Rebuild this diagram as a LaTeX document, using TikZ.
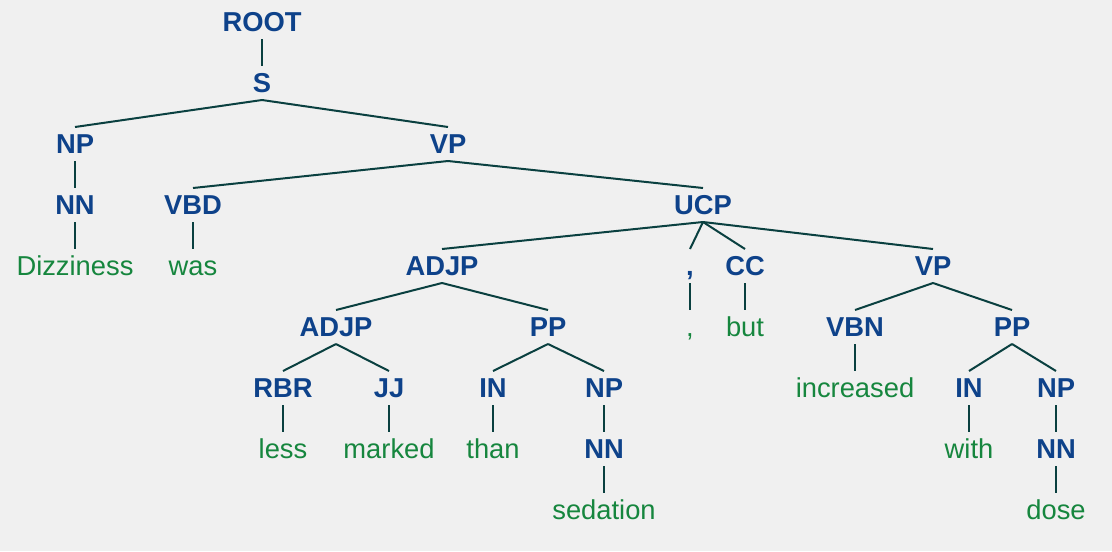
\documentclass[tikz,border=0pt]{standalone}
\usepackage{fontspec}
\setmainfont{Liberation Sans}
\definecolor{bg}{RGB}{240,240,240}
\definecolor{lab}{RGB}{14,66,138}
\definecolor{wrd}{RGB}{22,134,62}
\definecolor{edg}{RGB}{10,64,64}
\begin{document}
\begin{tikzpicture}[x=0.75pt,y=-0.75pt,
  base/.style={inner sep=0pt,outer sep=0pt,text height=20.1pt,text depth=5.4pt,font=\fontsize{20.5pt}{24pt}\selectfont},
  cat/.style={base,text=lab,font=\fontsize{20.5pt}{24pt}\selectfont\bfseries},
  word/.style={base,text=wrd},
  edge/.style={draw=edg,line width=1.5pt}]
\fill[bg] (0,0) rectangle (1112,551);
\useasboundingbox (0,0) rectangle (1112,551);
% row y: 22 83 144 205 266 327 388 449 510
\node[cat] (root) at (262,22) {ROOT};
\node[cat] (s) at (262,83) {S};
\node[cat] (np1) at (75,144) {NP};
\node[cat] (vp1) at (448,144) {VP};
\node[cat] (nn1) at (75,205) {NN};
\node[cat] (vbd) at (193,205) {VBD};
\node[cat] (ucp) at (703,205) {UCP};
\node[word] (w1) at (75,266) {Dizziness};
\node[word] (w2) at (193,266) {was};
\node[cat] (adjp1) at (442,266) {ADJP};
\node[cat] (comma) at (690,266) {,};
\node[cat] (cc) at (745,266) {CC};
\node[cat] (vp2) at (933,266) {VP};
\node[cat] (adjp2) at (336,327) {ADJP};
\node[cat] (pp1) at (548,327) {PP};
\node[word] (w3) at (690,327) {,};
\node[word] (w4) at (745,327) {but};
\node[cat] (vbn) at (855,327) {VBN};
\node[cat] (pp2) at (1012,327) {PP};
\node[cat] (rbr) at (283,388) {RBR};
\node[cat] (jj) at (389,388) {JJ};
\node[cat] (in1) at (493,388) {IN};
\node[cat] (np2) at (604,388) {NP};
\node[word] (w5) at (855,388) {increased};
\node[cat] (in2) at (969,388) {IN};
\node[cat] (np3) at (1056,388) {NP};
\node[word] (w6) at (283,449) {less};
\node[word] (w7) at (389,449) {marked};
\node[word] (w8) at (493,449) {than};
\node[cat] (nn2) at (604,449) {NN};
\node[word] (w9) at (969,449) {with};
\node[cat] (nn3) at (1056,449) {NN};
\node[word] (w10) at (604,510) {sedation};
\node[word] (w11) at (1056,510) {dose};
\foreach \a/\b in {root/s,s/np1,s/vp1,np1/nn1,nn1/w1,vp1/vbd,vp1/ucp,vbd/w2,
  ucp/adjp1,ucp/comma,ucp/cc,ucp/vp2,adjp1/adjp2,adjp1/pp1,comma/w3,cc/w4,
  vp2/vbn,vp2/pp2,adjp2/rbr,adjp2/jj,pp1/in1,pp1/np2,vbn/w5,pp2/in2,pp2/np3,
  rbr/w6,jj/w7,in1/w8,np2/nn2,in2/w9,np3/nn3,nn2/w10,nn3/w11}
  \draw[edge] (\a.south) -- (\b.north);
\end{tikzpicture}
\end{document}
